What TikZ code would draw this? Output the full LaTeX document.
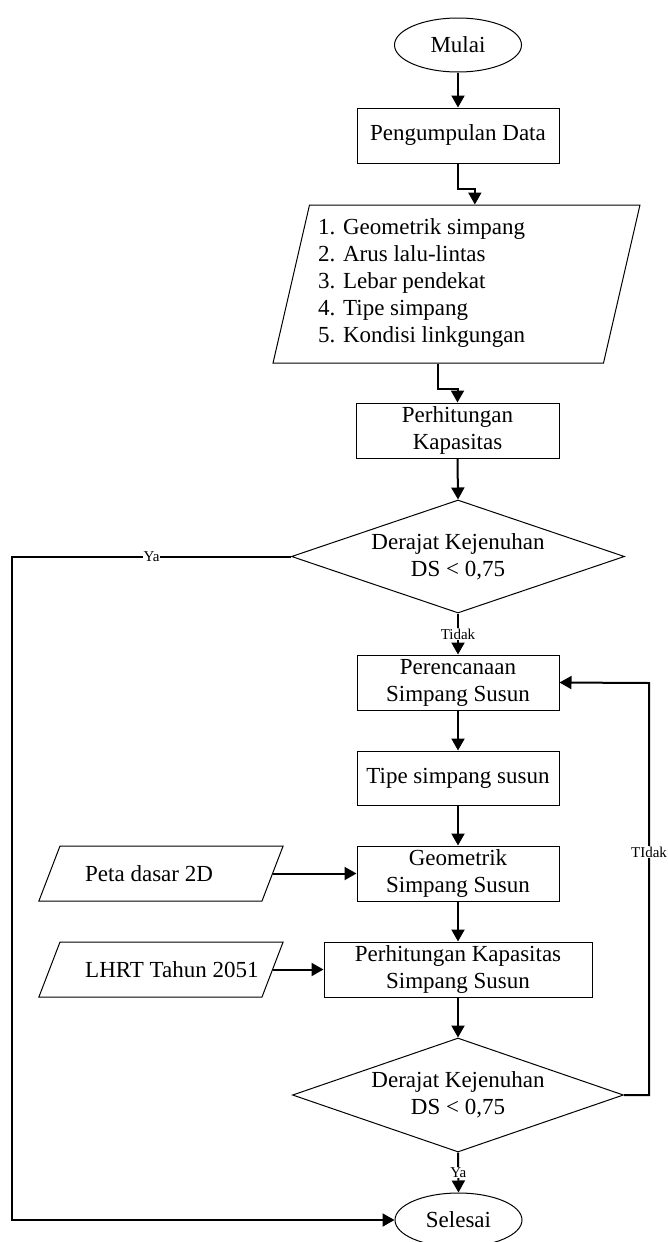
\documentclass[tikz,border=0pt]{standalone}
\usepackage{fontspec}
\setmainfont{Liberation Serif}
\usepackage{tikz}
\usetikzlibrary{shapes}
\usetikzlibrary{arrows.meta}
\usetikzlibrary{positioning}
\usetikzlibrary{calc}

\begin{document}
\begin{tikzpicture}[
  x=1pt, y=-1pt,
  alur/.style ={
    -{Triangle[length=12pt,width=13pt]},line width=2pt
  },
  proses/.style={
    rectangle,
    draw=black,
    line width=1pt,
    minimum width=202pt,
    minimum height=55pt,
    align=center,
    font=\fontsize{23}{27}\selectfont},
  terminal/.style={
    ellipse,
    draw=black,
    line width=1pt,
    minimum width=127pt,
    minimum height=54pt,
    font=\fontsize{23}{27}\selectfont},
  keputusan/.style={
    diamond,
    draw=black,
    line width=1pt,
    aspect=2.9,
    inner sep=0pt,
    minimum width=333pt,
    minimum height=113pt,
    align=center,
    font=\fontsize{23}{27}\selectfont},
  masukan/.style 2 args={
    trapezium,
    trapezium left angle=#1,
    trapezium right angle=#2,
    draw=black,
    line width=1pt},
  isian/.style={
    anchor=west,
    align=left,
    inner sep=0pt,
    font=\fontsize{23}{27}\selectfont},
  lbl/.style={
    fill=white,
    inner sep=1pt,
    font=\fontsize{15}{17}\selectfont},
]

  \useasboundingbox (0,0) rectangle (668,1242);

  \def\colx{458}%

    % Alur utama
  \node[terminal] (mulai) at (\colx,45) {Mulai};
  \node[proses] (kumpul) at (\colx,135.5) {Pengumpulan Data};

  \node[masukan={77}{103},inner xsep=147pt,inner ysep=79pt] (data) at (456.5,284) {};
  \node[isian] (datateks) at (318,283) {1. Geometrik simpang\\2. Arus lalu-lintas\\3. Lebar pendekat\\4. Tipe simpang\\5. Kondisi linkgungan};

  \node[proses,minimum width=203pt] (hitung) at (457.5,430.5) {Perhitungan\\Kapasitas};
  \node[keputusan] (ds1) at (\colx,556.5) {Derajat Kejenuhan\\DS < 0,75};

  \node[proses] (rencana) at (\colx,682.5) {Perencanaan\\Simpang Susun};
  \node[proses,minimum height=54pt] (tipe) at (\colx,778) {Tipe simpang susun};
  \node[proses] (geom) at (\colx,873.5) {Geometrik\\Simpang Susun};
  \node[proses,minimum width=268pt] (hitss) at (\colx,969.5) {Perhitungan Kapasitas\\Simpang Susun};
  \node[keputusan,minimum width=331pt,minimum height=114pt] (ds2) at (\colx,1095) {Derajat Kejenuhan\\DS < 0,75};
  \node[terminal] (selesai) at (458.5,1220) {Selesai};

    % Masukan samping
  \node[masukan={69}{111},inner xsep=101pt,inner ysep=27.5pt] (peta) at (161,873.5) {};
  \node[isian] (petateks) at (85,873.5) {Peta dasar 2D};
  \node[masukan={69}{111},inner xsep=101pt,inner ysep=27.5pt] (lhrt) at (161,969.5) {};
  \node[isian] (lhrtteks) at (85,969.5) {LHRT Tahun 2051};

  \coordinate (kiri) at (12,557);
  \coordinate (kanan) at (649,683);

    % Panah
  \draw[alur] (mulai.south) to (kumpul.north);
  \draw[alur] (kumpul.south) -- ++(0,25) -| (data.top side);
  \draw[alur] (data.bottom side) -- ++(0,25) -| (hitung.north);
  \draw[alur] (hitung.south) to (ds1.north);
  \draw[alur] (ds1.south) -- node[lbl] {Tidak} (rencana.north);
  \draw[alur] (rencana.south) to (tipe.north);
  \draw[alur] (tipe.south) to (geom.north);
  \draw[alur] (geom.south) to (hitss.north);
  \draw[alur] (hitss.south) to (ds2.north);
  \draw[alur] (ds2.south) -- node[lbl] {Ya} (selesai.north);

  \draw[alur] (peta.right side) to (geom.west);
  \draw[alur] (lhrt.right side) to (hitss.west);

  \draw[alur] (ds1.west) -- node[lbl] {Ya} (ds1.west -| kiri) |- (selesai.west);
  \draw[alur] (ds2.east) -- (ds2.east -| kanan) -- node[lbl,pos=0.59] {TIdak} (kanan) -- (rencana.east);

\end{tikzpicture}
\end{document}
